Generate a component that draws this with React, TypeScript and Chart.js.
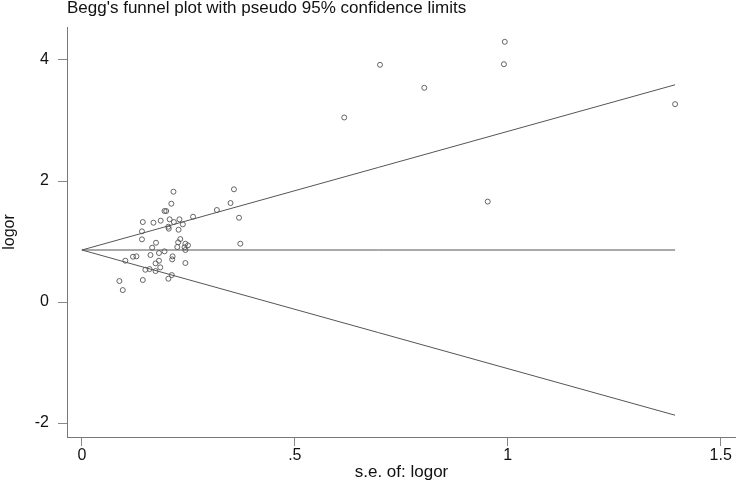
import React, { useEffect, useRef } from "react";
import { Chart, registerables } from "chart.js";

Chart.register(...registerables);

// Standard errors (x) and log odds ratios (y) of the studies
const seValues = [
  0.215, 0.357, 0.21, 0.349, 0.194, 0.198, 0.317, 0.143, 0.168, 0.185,
  0.206, 0.229, 0.216, 0.237, 0.261, 0.369, 0.203, 0.204, 0.141, 0.227,
  0.141, 0.174, 0.231, 0.226, 0.243, 0.249, 0.224, 0.241, 0.372, 0.165,
  0.243, 0.194, 0.181, 0.161, 0.12, 0.128, 0.213, 0.102, 0.181, 0.212,
  0.173, 0.243, 0.184, 0.159, 0.149, 0.173, 0.211, 0.203, 0.143, 0.088,
  0.096, 0.993, 0.991, 0.7, 0.804, 0.616, 1.393, 0.953,
];
const logorValues = [
  1.823, 1.863, 1.625, 1.636, 1.504, 1.504, 1.521, 1.322, 1.311, 1.344,
  1.367, 1.367, 1.322, 1.284, 1.41, 1.393, 1.245, 1.212, 1.168, 1.195,
  1.036, 0.98, 1.041, 0.987, 0.964, 0.937, 0.909, 0.904, 0.964, 0.898,
  0.86, 0.838, 0.81, 0.777, 0.749, 0.755, 0.755, 0.683, 0.683, 0.705,
  0.639, 0.645, 0.573, 0.545, 0.534, 0.512, 0.446, 0.385, 0.364, 0.347,
  0.198, 4.3, 3.93, 3.92, 3.54, 3.05, 3.27, 1.66,
];

// Pooled estimate and range of s.e. for the pseudo 95% limits
const pooledTheta = [0.86];
const seRange = [0, 1.393];
const zValue = [1.96];

const xTickValues = [0, 0.5, 1, 1.5];
const xTickLabels = ["0", ".5", "1", "1.5"];
const yTickValues = [-2, 0, 2, 4];
const yTickLabels = ["-2", "0", "2", "4"];

const titleText = "Begg's funnel plot with pseudo 95% confidence limits";
const xTitleText = "s.e. of: logor";
const yTitleText = "logor";

const FONT = "'Liberation Sans', Arial, sans-serif";

export default function App() {
  const canvasRef = useRef<HTMLCanvasElement | null>(null);

  useEffect(() => {
    document.body.style.margin = "0";
    const canvas = canvasRef.current;
    if (!canvas) return;

    const theta = pooledTheta[0];
    const z = zValue[0];
    const points = seValues.map((s, i) => ({ x: s, y: logorValues[i] }));
    const upper = seRange.map((s) => ({ x: s, y: theta + z * s }));
    const lower = seRange.map((s) => ({ x: s, y: theta - z * s }));
    const center = seRange.map((s) => ({ x: s, y: theta }));

    const textPlugin = {
      id: "textPlugin",
      afterDraw(chart: any) {
        const { ctx, chartArea } = chart;
        ctx.save();
        ctx.fillStyle = "#111";
        ctx.font = `17px ${FONT}`;
        ctx.textAlign = "left";
        ctx.textBaseline = "alphabetic";
        ctx.fillText(titleText, chartArea.left, 13);

        ctx.font = `17px ${FONT}`;
        ctx.textAlign = "center";
        ctx.fillText(xTitleText, (chartArea.left + chartArea.right) / 2, 477);

        ctx.translate(14, 232);
        ctx.rotate(-Math.PI / 2);
        ctx.font = `16px ${FONT}`;
        ctx.textBaseline = "alphabetic";
        ctx.fillText(yTitleText, 0, 0);
        ctx.restore();
      },
    };

    const lineStyle = {
      type: "line" as const,
      borderColor: "#555",
      borderWidth: 1,
      pointRadius: 0,
      fill: false,
      showLine: true,
    };

    const chart = new Chart(canvas, {
      type: "scatter",
      data: {
        datasets: [
          { ...lineStyle, data: upper },
          { ...lineStyle, data: lower },
          { ...lineStyle, data: center },
          {
            type: "scatter" as const,
            data: points,
            pointStyle: "circle",
            pointRadius: 2.5,
            pointBorderWidth: 0.9,
            borderColor: "#555",
            backgroundColor: "rgba(0,0,0,0)",
            pointBackgroundColor: "rgba(0,0,0,0)",
            pointBorderColor: "#555",
          } as any,
        ],
      },
      options: {
        animation: false,
        responsive: false,
        maintainAspectRatio: false,
        layout: { autoPadding: false, padding: { top: 27, right: 0, left: 0, bottom: 0 } },
        plugins: {
          legend: { display: false },
          tooltip: { enabled: false },
          title: { display: false },
        },
        scales: {
          x: {
            type: "linear",
            min: -0.035,
            max: 1.536,
            afterFit: (s: any) => {
              s.height = 45;
              s.paddingRight = 0;
              s.paddingLeft = 0;
            },
            afterBuildTicks: (s: any) => {
              s.ticks = xTickValues.map((v) => ({ value: v }));
            },
            ticks: {
              autoSkip: false,
              maxRotation: 0,
              padding: 0,
              color: "#111",
              font: { family: FONT, size: 16 },
              callback: (v: any) => {
                const i = xTickValues.indexOf(Number(v));
                return i >= 0 ? xTickLabels[i] : "";
              },
            },
            grid: {
              drawOnChartArea: false,
              drawTicks: true,
              tickLength: 9,
              tickColor: "#888",
              tickWidth: 1,
            },
            border: { display: true, color: "#777", width: 1 },
          },
          y: {
            type: "linear",
            min: -2.23,
            max: 4.545,
            afterFit: (s: any) => {
              s.width = 67;
              s.paddingTop = 0;
              s.paddingBottom = 0;
            },
            afterBuildTicks: (s: any) => {
              s.ticks = yTickValues.map((v) => ({ value: v }));
            },
            ticks: {
              autoSkip: false,
              padding: 9,
              color: "#111",
              font: { family: FONT, size: 16 },
              callback: (v: any) => {
                const i = yTickValues.indexOf(Number(v));
                return i >= 0 ? yTickLabels[i] : "";
              },
            },
            grid: {
              drawOnChartArea: false,
              drawTicks: true,
              tickLength: 9,
              tickColor: "#888",
              tickWidth: 1,
            },
            border: { display: true, color: "#777", width: 1 },
          },
        },
      },
      plugins: [textPlugin],
    } as any);

    return () => chart.destroy();
  }, []);

  return (
    <div style={{ position: "fixed", left: 0, top: 0, width: 736, height: 482, background: "#fff" }}>
      <canvas ref={canvasRef} width={736} height={482} style={{ width: 736, height: 482, display: "block" }} />
    </div>
  );
}
